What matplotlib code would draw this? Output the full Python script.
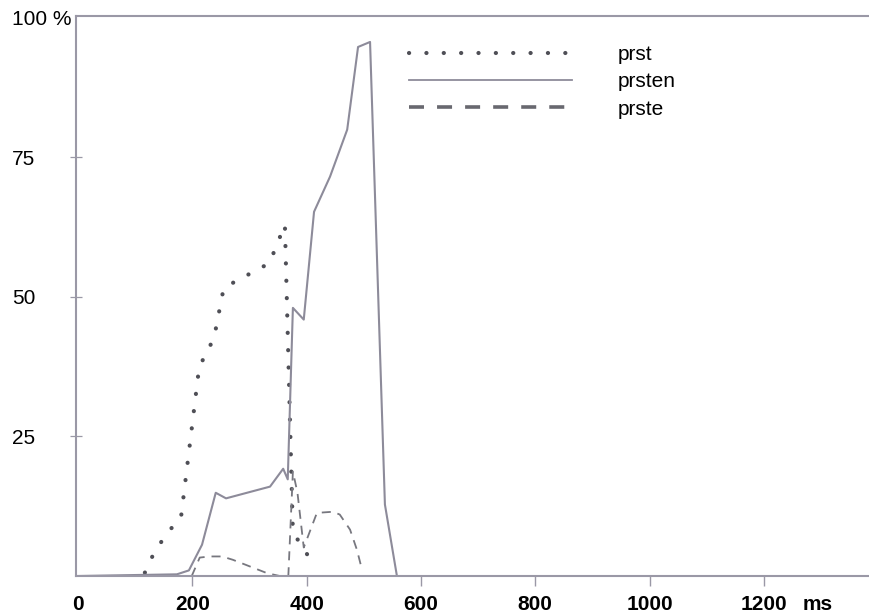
import matplotlib
matplotlib.use('Agg')
import matplotlib.pyplot as plt

plt.rcParams['font.family'] = ['Liberation Sans', 'DejaVu Sans']
plt.rcParams['lines.scale_dashes'] = False

# ---- data (time in ms, value in %) ----
prst_ms = [117, 129, 145, 161, 180, 212, 238, 255, 335, 362, 376, 393, 408]
prst_pct = [0.6, 3.3, 6.0, 8.3, 10.3, 37.4, 42.6, 51.6, 56.0, 62.9, 7.7, 5.3, 2.6]

prsten_ms = [0, 173, 194, 217, 241, 259, 336, 359, 367, 376, 395, 413, 441, 471, 490, 511, 537, 558]
prsten_pct = [0, 0.3, 1.0, 5.6, 14.9, 13.9, 16.0, 19.2, 17.3, 48.0, 45.9, 65.2, 71.5, 79.9, 94.7, 95.6, 12.8, 0]

prste_ms = [199, 213, 231, 252, 271, 301, 331, 353, 368, 376, 384, 395, 418, 446, 458, 476, 488, 497]
prste_pct = [0, 3.3, 3.5, 3.5, 2.9, 1.7, 0.5, 0, 0, 18.7, 14.9, 5.1, 11.3, 11.5, 11.0, 8.3, 4.7, 1.1]

x_ticks = [0, 200, 400, 600, 800, 1000, 1200]
x_labels = ['0', '200', '400', '600', '800', '1000', '1200']
y_ticks = [25, 50, 75, 100]
y_labels = ['25', '50', '75', '100 %']
series_names = ['prst', 'prsten', 'prste']

axis_col = '#9a98a6'

fig = plt.figure(figsize=(8.69, 6.15), dpi=100)
ax = fig.add_axes([76 / 869, 1 - 576 / 615, 1 - 76 / 869, (576 - 15.7) / 615])

ax.plot(prst_ms, prst_pct, color='#4f4f56', lw=3.0, dashes=(0.1, 12.4),
        dash_capstyle='round', label=series_names[0])
ax.plot(prsten_ms, prsten_pct, color='#8d8b9a', lw=1.5, label=series_names[1])
ax.plot(prste_ms, prste_pct, color='#77777f', lw=1.3, dashes=(6.5, 5),
        label=series_names[2])

ax.set_xlim(-3.5, 1384)
ax.set_ylim(0, 100.3)

for side in ['left', 'bottom', 'top']:
    ax.spines[side].set_color(axis_col)
    ax.spines[side].set_linewidth(1.5)
ax.spines['right'].set_visible(False)

ax.set_xticks(x_ticks)
ax.set_xticklabels(x_labels, fontsize=15, fontweight='bold')
ax.tick_params(axis='x', direction='out', length=7.2, width=1.0, color=axis_col, pad=6.5)
ax.xaxis.get_major_ticks()[0].tick1line.set_visible(False)

ax.set_yticks(y_ticks)
ax.set_yticklabels(y_labels, fontsize=15)
ax.tick_params(axis='y', direction='inout', length=8.6, width=0.9, color=axis_col, pad=41.7)
for lbl in ax.get_yticklabels():
    lbl.set_ha('left')
ax.yaxis.get_major_ticks()[-1].tick1line.set_visible(False)

ax.annotate('ms', xy=(1267, 0), xycoords=('data', 'axes fraction'),
            xytext=(0, -(7.2 + 6.5)), textcoords='offset points',
            ha='left', va='top', fontsize=15, fontweight='bold')

leg = ax.legend(loc='upper left', bbox_to_anchor=(409 / 869, 1 - 45 / 615),
                bbox_transform=fig.transFigure, frameon=False, fontsize=15,
                handlelength=7.8, handletextpad=2.2, labelspacing=0.4,
                borderpad=0, borderaxespad=0)
hl = leg.get_lines()
hl[1].set_linewidth(1.3)
hl[2].set_linewidth(2.6)
hl[2].set_dashes((10.8, 9.4))
hl[2].set_color('#68686f')

fig.savefig('out.png', dpi=100)
